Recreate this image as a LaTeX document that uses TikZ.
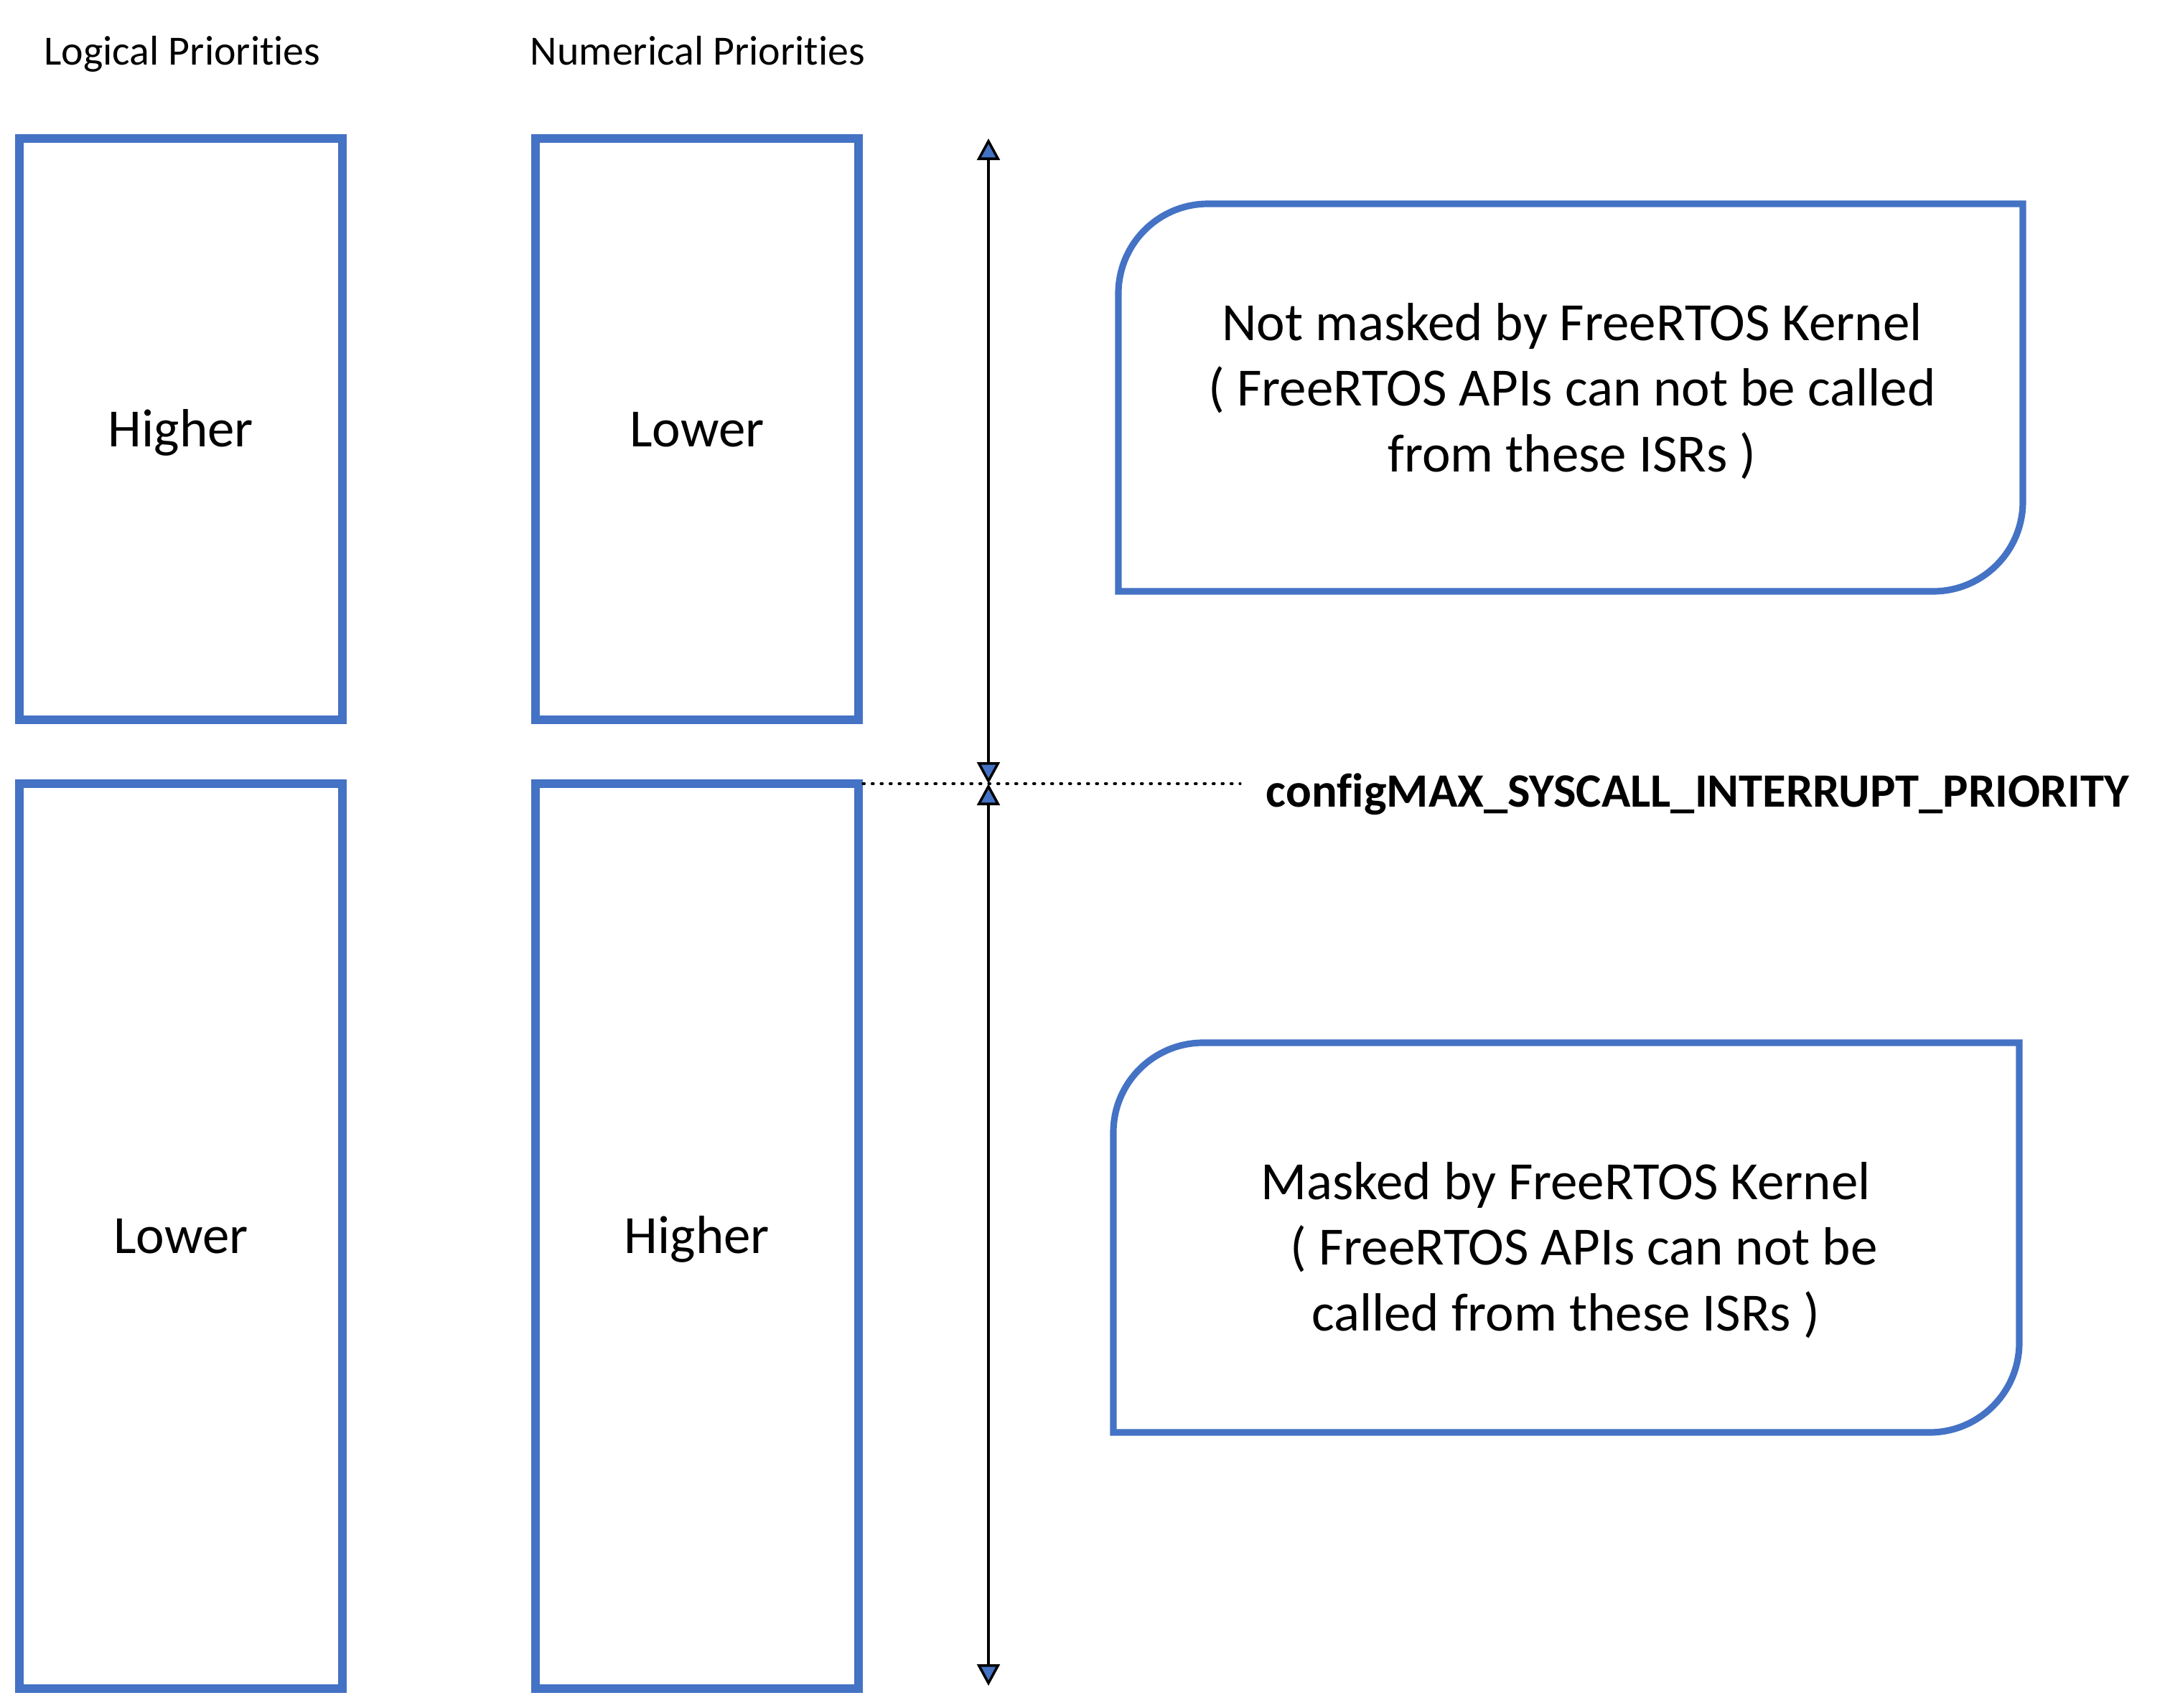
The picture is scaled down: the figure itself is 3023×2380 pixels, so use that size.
\documentclass[tikz,border=0pt]{standalone}
\usepackage{fontspec}
\setmainfont{Carlito}[Ligatures=NoCommon]
\usetikzlibrary{arrows.meta}
\definecolor{boxblue}{RGB}{68,114,196}
\begin{document}
\begin{tikzpicture}[x=0.24pt,y=-0.24pt,
  prio/.style={draw=boxblue,line width=2.9pt,minimum width=450*0.24pt,inner sep=0pt,
    font=\fontsize{18pt}{21.9pt}\selectfont,text height=15.2pt,text depth=3.6pt},
  hdr/.style={font=\fontsize{13.9pt}{16pt}\selectfont,anchor=base,inner sep=0pt},
  zone/.style={draw=boxblue,line width=2.2pt},
  zonetext/.style={align=center,font=\fontsize{18pt}{21.9pt}\selectfont,inner sep=0pt},
  axis/.style={line width=0.85pt,{Triangle[width=7.6pt,length=7.2pt,fill=boxblue]}-{Triangle[width=7.6pt,length=7.2pt,fill=boxblue]}},
  limit/.style={line width=0.75pt,line cap=round,dash pattern=on 0.6pt off 2.4pt},
  lbl/.style={anchor=base west,inner sep=0pt,font=\bfseries\fontsize{16pt}{19pt}\selectfont}
]
\useasboundingbox (0,0) rectangle (3023,2380);

% headers
\node[hdr] (hlog) at (254,90) {Logical Priorities};
\node[hdr] (hnum) at (972,90) {Numerical Priorities};

% priority boxes
\node[prio,minimum height=810*0.24pt] (lhi) at (252,598) {Higher};
\node[prio,minimum height=810*0.24pt] (nlo) at (971,598) {Lower};
\node[prio,minimum height=1261*0.24pt] (llo) at (252,1722.5) {Lower};
\node[prio,minimum height=1261*0.24pt] (nhi) at (971,1722.5) {Higher};

% axis arrows
\coordinate (atop) at (1377,193);
\coordinate (amid) at (1377,1092);
\coordinate (abot) at (1377,2349);
\draw[axis] (amid) -- (atop);
\draw[axis] (amid) -- (abot);

% limit line
\coordinate (dstart) at (1202,1092);
\coordinate (dend) at (1728,1092);
\draw[limit] (dstart) -- (dend);
\node[lbl] (cfg) at (1763,1124) {configMAX\_SYSCALL\_INTERRUPT\_PRIORITY};

% zone boxes
\draw[zone] (1558,824) -- (1558,409) .. controls (1558,340) and (1614,284) .. (1683,284)
  -- (2818,284) -- (2818,699) .. controls (2818,768) and (2762,824) .. (2693,824) -- cycle;
\node[zonetext] (ztop) at (2190,545) {Not masked by FreeRTOS Kernel\\( FreeRTOS APIs can not be called\\from these ISRs )};

\draw[zone] (1551,1996) -- (1551,1578) .. controls (1551,1509) and (1607,1453) .. (1676,1453)
  -- (2813,1453) -- (2813,1871) .. controls (2813,1940) and (2757,1996) .. (2688,1996) -- cycle;
\node[zonetext] (zbot) at (2181,1742) {Masked by FreeRTOS Kernel\\\hspace*{0.68em}( FreeRTOS APIs can not be\\called from these ISRs )};
\end{tikzpicture}
\end{document}
